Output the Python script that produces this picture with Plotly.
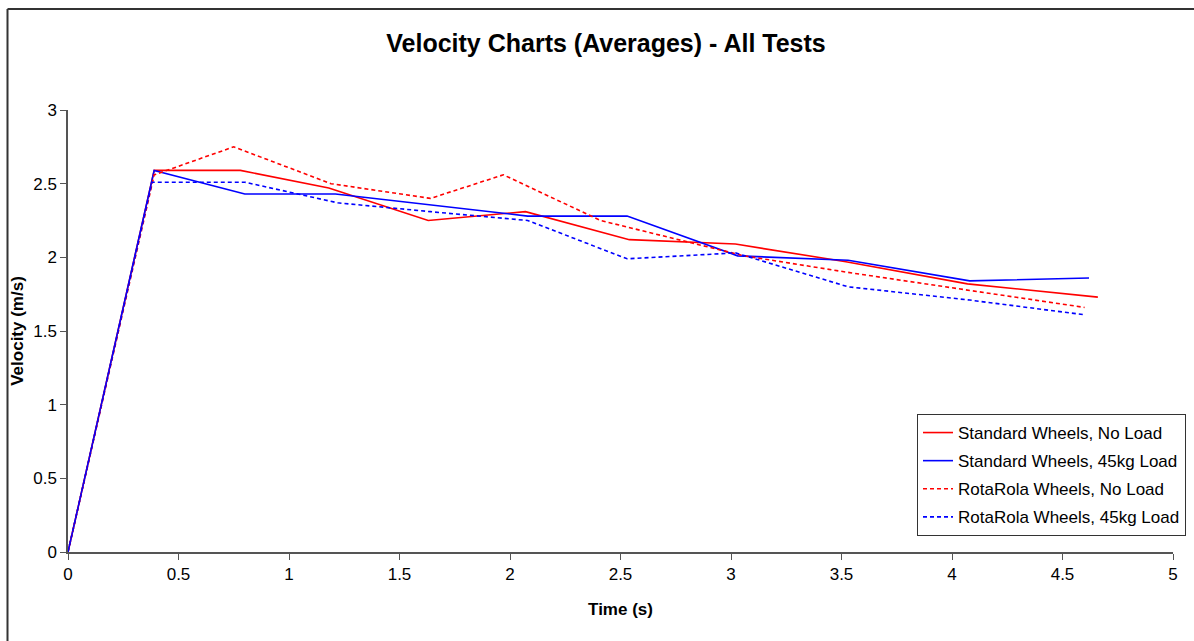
import plotly.graph_objects as go

# Standard Wheels, No Load
t_std_no = [0, 0.39, 0.78, 1.18, 1.63, 2.07, 2.54, 3.02, 3.52, 4.07, 4.66]
v_std_no = [0, 2.59, 2.59, 2.47, 2.25, 2.31, 2.12, 2.09, 1.97, 1.82, 1.73]

# Standard Wheels, 45kg Load
t_std_45 = [0, 0.39, 0.80, 1.21, 2.08, 2.53, 3.03, 3.53, 4.08, 4.62]
v_std_45 = [0, 2.59, 2.43, 2.43, 2.28, 2.28, 2.01, 1.98, 1.84, 1.86]

# RotaRola Wheels, No Load
t_rr_no = [0, 0.39, 0.75, 1.19, 1.64, 1.97, 2.41, 3.06, 3.52, 4.07, 4.60]
v_rr_no = [0, 2.56, 2.75, 2.50, 2.40, 2.56, 2.25, 2.01, 1.90, 1.78, 1.66]

# RotaRola Wheels, 45kg Load
t_rr_45 = [0, 0.38, 0.80, 1.22, 1.64, 2.08, 2.53, 3.02, 3.53, 4.08, 4.60]
v_rr_45 = [0, 2.51, 2.51, 2.37, 2.31, 2.25, 1.99, 2.03, 1.80, 1.71, 1.61]

series = [
    ("Standard Wheels, No Load", t_std_no, v_std_no, "#ff0000", "solid"),
    ("Standard Wheels, 45kg Load", t_std_45, v_std_45, "#0000ff", "solid"),
    ("RotaRola Wheels, No Load", t_rr_no, v_rr_no, "#ff0000", "4px,3px"),
    ("RotaRola Wheels, 45kg Load", t_rr_45, v_rr_45, "#0000ff", "4px,3px"),
]

fig = go.Figure()
for i, (name, t, v, color, dash) in enumerate(series):
    fig.add_trace(go.Scatter(
        x=t, y=v, mode="lines", name=name, legendgroup=f"g{i}",
        line=dict(color=color, width=1.6, dash=dash),
    ))

font = "Liberation Sans, Arial, sans-serif"

W, H = 1194, 641
L, R, T, B = 68, 21, 110, 89
PW, PH = W - L - R, H - T - B

fig.update_layout(
    width=W, height=H,
    margin=dict(l=L, r=R, t=T, b=B, autoexpand=False),
    paper_bgcolor="white", plot_bgcolor="white",
    title=dict(text="<b>Velocity Charts (Averages) - All Tests</b>",
               x=(606 - L) / PW, xanchor="center", xref="paper",
               y=1 - 43 / H, yanchor="middle", automargin=False,
               font=dict(family=font, size=25, color="black")),
    font=dict(family=font, size=17, color="black"),
    showlegend=True,
    legend=dict(
        x=(1186 - L) / PW, xanchor="right", y=(H - B - 414) / PH, yanchor="top",
        bgcolor="white", bordercolor="#333333", borderwidth=1,
        font=dict(family=font, size=17, color="black"),
        traceorder="grouped", tracegroupgap=3,
    ),
    xaxis=dict(
        range=[0, 5], dtick=0.5, tick0=0, automargin=False,
        showgrid=False, zeroline=False,
        showline=True, linecolor="#555555", linewidth=1.5,
        ticks="outside", ticklen=6, tickcolor="#555555",
        tickfont=dict(family=font, size=17, color="black"),
        title=dict(text="<b>Time (s)</b>", standoff=20,
                   font=dict(family=font, size=17, color="black")),
    ),
    yaxis=dict(
        range=[0, 3], dtick=0.5, tick0=0, automargin=False,
        showgrid=False, zeroline=False,
        showline=True, linecolor="#555555", linewidth=1.5,
        ticks="outside", ticklen=6, tickcolor="#555555",
        tickfont=dict(family=font, size=17, color="black"),
        title=dict(text="<b>Velocity (m/s)</b>", standoff=5,
                   font=dict(family=font, size=17, color="black")),
    ),
)

# outer chart border (only the left and top edges fall inside the frame)
border_x = (7.5 - L) / PW
border_y = (H - B - 9) / PH
fig.add_shape(type="line", xref="paper", yref="paper",
              x0=border_x, x1=border_x, y0=(H - B - 660) / PH, y1=border_y,
              line=dict(color="#333333", width=2), layer="above")
fig.add_shape(type="line", xref="paper", yref="paper",
              x0=border_x, x1=(1210 - L) / PW, y0=border_y, y1=border_y,
              line=dict(color="#333333", width=2), layer="above")

fig.write_html("out.html", config={"displayModeBar": False},
               post_script="document.body.style.margin='0';document.body.style.padding='0';")
